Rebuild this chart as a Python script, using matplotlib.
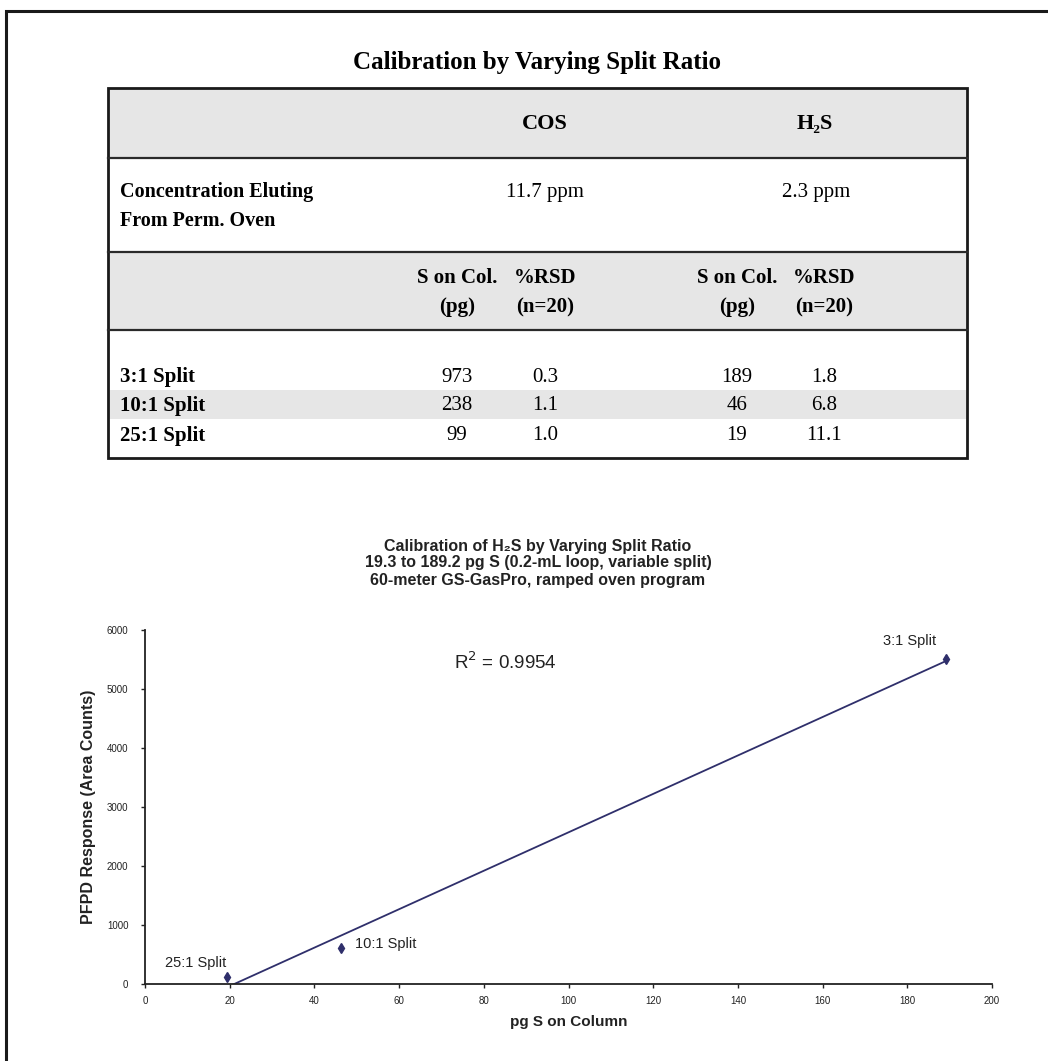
import matplotlib
matplotlib.use("Agg")
import matplotlib.pyplot as plt
from matplotlib.patches import Rectangle
import numpy as np

# table values
split_rows = ["3:1 Split", "10:1 Split", "25:1 Split"]
cos_pg = ["973", "238", "99"]
cos_rsd = ["0.3", "1.1", "1.0"]
h2s_pg = ["189", "46", "19"]
h2s_rsd = ["1.8", "6.8", "11.1"]
conc = ["11.7 ppm", "2.3 ppm"]

# calibration points (pg S on column, area counts)
pt_labels = ["3:1 Split", "10:1 Split", "25:1 Split"]
pg_s = [189.2, 46.3, 19.3]
response = [5510, 610, 120]

W, H = 1048, 1061
fig = plt.figure(figsize=(W / 100, H / 100), dpi=100)

# full-size overlay working in pixel units for the table and frame
ov = fig.add_axes([0, 0, 1, 1], zorder=0)
ov.set_xlim(0, W)
ov.set_ylim(H, 0)
ov.axis("off")

serif = ["Liberation Serif", "DejaVu Serif"]
sans = ["Liberation Sans", "DejaVu Sans"]
dark = "#1a1a1a"
gray = "#e6e6e6"

# page frame (left and top edges)
ov.plot([6, 6, W], [H, 11, 11], color=dark, lw=2.2, solid_joinstyle="miter")

# table geometry
tl, tr = 108, 967
row_edges = [88, 158, 252, 330, 458]
ov.add_patch(Rectangle((tl, 88), tr - tl, 70, color=gray, lw=0))
ov.add_patch(Rectangle((tl, 252), tr - tl, 78, color=gray, lw=0))
ov.add_patch(Rectangle((tl, 390), tr - tl, 29, color=gray, lw=0))
for y in row_edges[1:-1]:
    ov.plot([tl, tr], [y, y], color="#2a2a2a", lw=1.6)
ov.add_patch(Rectangle((tl, 88), tr - tl, 370, fill=False, ec=dark, lw=2.0))

ov.text(537, 62, "Calibration by Varying Split Ratio", family=serif,
        weight="bold", fontsize=18, ha="center", va="center")
ov.text(545, 124, "COS", family=serif, weight="bold", fontsize=16,
        ha="center", va="center")
ov.text(815, 124, "H\u2082S", family=serif, weight="bold", fontsize=16,
        ha="center", va="center")
ov.text(120, 192, "Concentration Eluting", family=serif, weight="bold",
        fontsize=14.5, ha="left", va="center")
ov.text(120, 221, "From Perm. Oven", family=serif, weight="bold",
        fontsize=14.5, ha="left", va="center")
ov.text(545, 192, conc[0], family=serif, fontsize=15, ha="center", va="center")
ov.text(816, 192, conc[1], family=serif, fontsize=15, ha="center", va="center")

col_x = [457, 545, 737, 824]
heads = [("S on Col.", "(pg)"), ("%RSD", "(n=20)")] * 2
for x, (h1, h2) in zip(col_x, heads):
    ov.text(x, 278, h1, family=serif, weight="bold", fontsize=15,
            ha="center", va="center")
    ov.text(x, 307, h2, family=serif, weight="bold", fontsize=15,
            ha="center", va="center")

row_y = [377, 406, 436]
for i, y in enumerate(row_y):
    ov.text(120, y, split_rows[i], family=serif, weight="bold", fontsize=15,
            ha="left", va="center")
    for x, col in zip(col_x, [cos_pg, cos_rsd, h2s_pg, h2s_rsd]):
        ov.text(x, y, col[i], family=serif, fontsize=15, ha="center", va="center")

# chart titles
titles = ["Calibration of H\u2082S by Varying Split Ratio",
          "19.3 to 189.2 pg S (0.2-mL loop, variable split)",
          "60-meter GS-GasPro, ramped oven program"]
for k, t in enumerate(titles):
    ov.text(538, 546 + 17 * k, t, family=sans, weight="bold", fontsize=11.5,
            ha="center", va="center", color="#222222")

# calibration plot
ax = fig.add_axes([145 / W, 1 - 984 / H, 847 / W, 354 / H], zorder=1)
ax.patch.set_alpha(0)
navy = "#2f2f6b"
x = np.array(pg_s)
y = np.array(response)
slope, icpt = np.polyfit(x, y, 1)
xf = np.array([x.min(), x.max()])
ax.plot(xf, slope * xf + icpt, color=navy, lw=1.3)
ax.plot(x, y, "d", color=navy, ms=5.5, mec=navy)

offsets = [(-7, 8, "right", "bottom"), (10, 3, "left", "center"),
           (0, 5, "right", "bottom")]
for lab, xi, yi, (dx, dy, ha, va) in zip(pt_labels, pg_s, response, offsets):
    ax.annotate(lab, (xi, yi), xytext=(dx, dy), textcoords="offset points",
                ha=ha, va=va, fontsize=10.5, family=sans, color="#222222")

ax.text(85, 5450, "R$^2$ = 0.9954", fontsize=13.5, family=sans,
        ha="center", va="center", color="#222222")

ax.set_xlim(0, 200)
ax.set_ylim(0, 6000)
ax.set_xticks(np.arange(0, 201, 20))
ax.set_yticks(np.arange(0, 6001, 1000))
for s in ["top", "right"]:
    ax.spines[s].set_visible(False)
for s in ["left", "bottom"]:
    ax.spines[s].set_color("#222222")
    ax.spines[s].set_linewidth(1.3)
ax.tick_params(direction="out", length=3, width=1, colors="#222222",
               labelsize=7)
ax.tick_params(axis="x", pad=6)
ax.tick_params(axis="y", pad=9)
for lab in ax.get_xticklabels() + ax.get_yticklabels():
    lab.set_family(sans)
ax.set_xlabel("pg S on Column", family=sans, weight="bold", fontsize=11,
              labelpad=6, color="#222222")
ax.set_ylabel("PFPD Response (Area Counts)", family=sans, weight="bold",
              fontsize=11.5, labelpad=8, color="#222222")

fig.savefig("out.png", dpi=100, facecolor="white")
